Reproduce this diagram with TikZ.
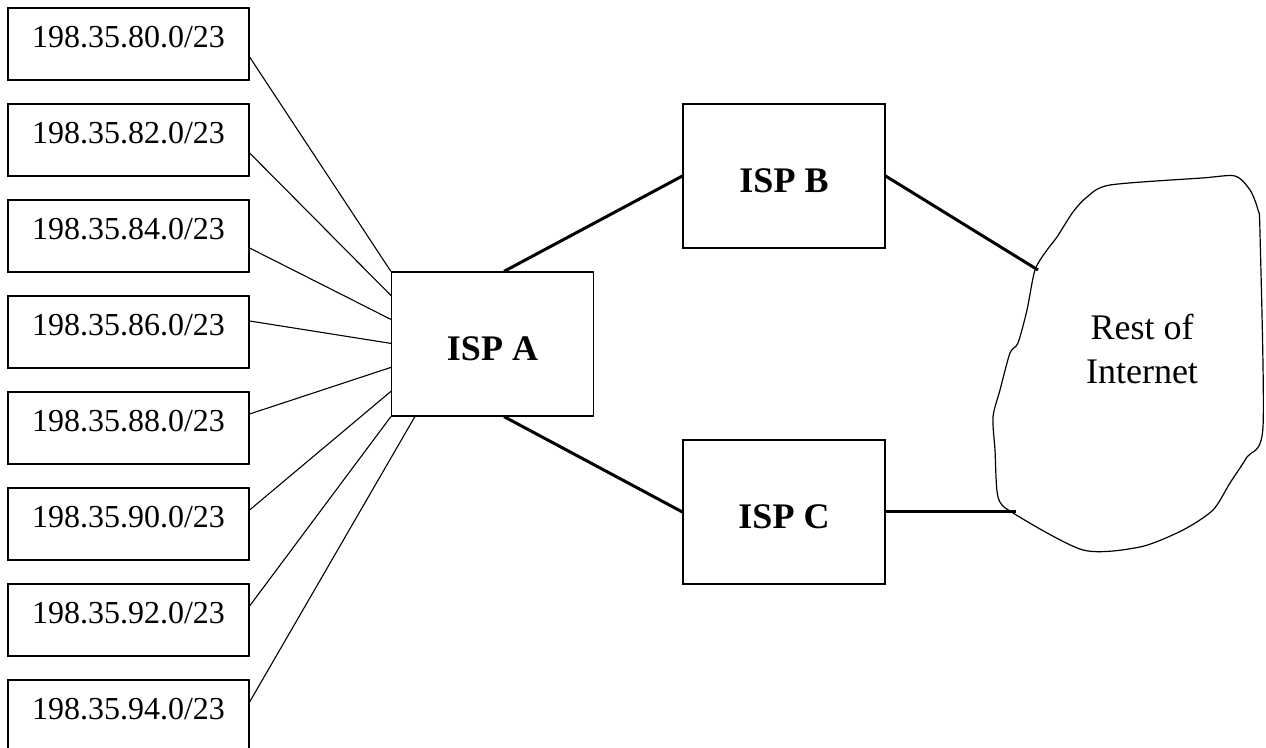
\documentclass[tikz,border=0pt]{standalone}
\usepackage{fontspec}
\setmainfont{Liberation Serif}
\usetikzlibrary{positioning}

\begin{document}
\begin{tikzpicture}[x=0.5pt, y=-0.5pt, node distance=11.4pt,
  net/.style={draw,line width=0.6pt,inner sep=0pt,minimum width=120.5pt,text height=20pt,text depth=16pt,font=\fontsize{16}{19}\selectfont},
  isp/.style={draw,line width=0.6pt,inner sep=0pt,minimum width=101pt,text height=44.5pt,text depth=27.5pt,font=\fontsize{18}{22}\selectfont\bfseries},
  feed/.style={line width=0.55pt},
  link/.style={line width=1.5pt}]
  \useasboundingbox (0,0) rectangle (1266,748);
  % customer blocks
  \node[net] (n80) at (128.5,44) {198.35.80.0/23};
  \node[net,below=of n80] (n82) {198.35.82.0/23};
  \node[net,below=of n82] (n84) {198.35.84.0/23};
  \node[net,below=of n84] (n86) {198.35.86.0/23};
  \node[net,below=of n86] (n88) {198.35.88.0/23};
  \node[net,below=of n88] (n90) {198.35.90.0/23};
  \node[net,below=of n90] (n92) {198.35.92.0/23};
  \node[net,below=of n92] (n94) {198.35.94.0/23};
  % providers
  \node[isp] (ispa) at (492.5,344) {ISP A};
  \node[isp] (ispb) at (784,176) {ISP B};
  \node[isp] (ispc) at (784,512) {ISP C};
  % rest of internet
  \draw[line width=0.6pt] plot[smooth cycle,tension=0.45] coordinates {
    (1110,185) (1202,178) (1235,176) (1250,190) (1258,210) (1260,233)
    (1263,427) (1247,457) (1230,483) (1213,510) (1183,530) (1140,547)
    (1083,550) (1013,513) (998,497) (995,450) (993,417) (1000,390)
    (1010,353) (1018,343) (1027,310) (1035,270) (1047,250) (1057,237)
    (1073,212) (1087,197)};
  \coordinate (inetb) at (1038,270);
  \coordinate (inetc) at (1016,512);
  \node[align=center,font=\fontsize{18}{22}\selectfont] (inet) at (1142,349) {Rest of\\Internet};
  % aggregation links
  \draw[feed] ([yshift=-6.5pt]n80.east) -- (ispa.north west);
  \draw[feed] ([yshift=-6.5pt]n82.east) -- ([yshift=-12pt]ispa.north west);
  \draw[feed] ([yshift=-6pt]n84.east) -- ([yshift=-24pt]ispa.north west);
  \draw[feed] ([yshift=5.5pt]n86.east) -- ([yshift=-36pt]ispa.north west);
  \draw[feed] ([yshift=7pt]n88.east) -- ([yshift=-48pt]ispa.north west);
  \draw[feed] ([yshift=7pt]n90.east) -- ([yshift=-60pt]ispa.north west);
  \draw[feed] ([yshift=7pt]n92.east) -- (ispa.south west);
  \draw[feed] ([yshift=7pt]n94.east) -- ([xshift=12pt]ispa.south west);
  % upstream links
  \draw[link] ([xshift=5.75pt]ispa.north) -- (ispb.west);
  \draw[link] ([xshift=5.75pt]ispa.south) -- (ispc.west);
  \draw[link] (ispb.east) -- (inetb);
  \draw[link] (ispc.east) -- (inetc);
\end{tikzpicture}
\end{document}
